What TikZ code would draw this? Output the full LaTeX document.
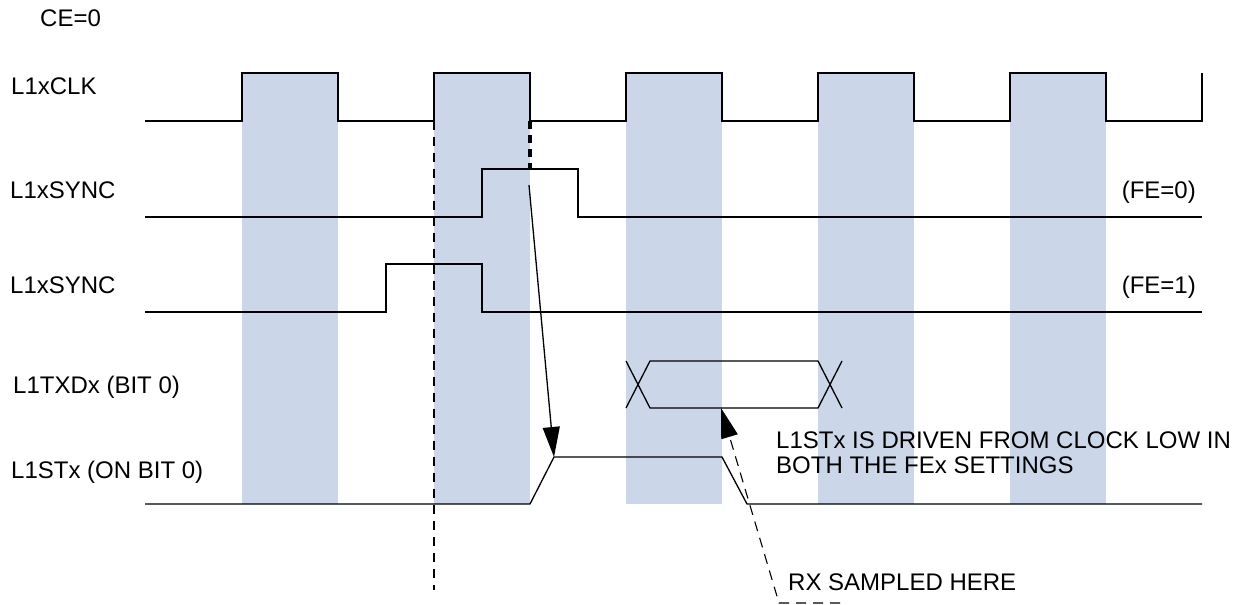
\documentclass[tikz,border=0pt]{standalone}
\usepackage{fontspec}
\setmainfont{Liberation Sans}
\usetikzlibrary{arrows.meta}
\definecolor{bandblue}{RGB}{203,214,232}
\begin{document}
\begin{tikzpicture}[x=1pt,y=-1pt,
  wave/.style={line width=1.3pt,line join=miter},
  lbl/.style={font=\fontsize{24}{25}\selectfont,inner sep=0pt},
  tip/.style={-{Triangle[length=30pt,width=17pt]}}]
\useasboundingbox (0,0) rectangle (1243,605);
% bands
\foreach \x in {242,434,626,818,1010} \fill[bandblue] (\x,73) rectangle (\x+96,504);
% clock
\draw[wave] (145,121) foreach \x in {242,434,626,818,1010}{ -- (\x,121) -- (\x,73) -- (\x+96,73) -- (\x+96,121)} -- (1202,121) -- (1202,73);
% sync FE=0
\draw[wave] (145,217) -- (482,217) -- (482,169) -- (578,169) -- (578,217) -- (1202,217);
% sync FE=1
\draw[wave] (145,312) -- (386,312) -- (386,264) -- (482,264) -- (482,312) -- (1202,312);
% data bus
\draw[wave] (626,361) -- (650,408) -- (818,408) -- (842,361);
\draw[wave] (626,408) -- (650,361) -- (818,361) -- (842,408);
% L1STx
\draw[wave] (145,504) -- (530,504) -- (554,457) -- (722,457) -- (747,504) -- (1202,504);
% markers
\draw[line width=1.2pt,dash pattern=on 9pt off 7pt] (434,121) -- (434,590);
\draw[line width=4pt,dash pattern=on 8pt off 6pt] (530,121) -- (530,169);
% arrow coordinates
\coordinate (a0) at (529,185);
\coordinate (a1) at (554,457);
\coordinate (b0) at (840,603);
\coordinate (b1) at (779,603);
\coordinate (b2) at (721,408);
\draw[line width=1.3pt,tip] (a0) -- (a1);
\draw[line width=1.1pt,dash pattern=on 10pt off 7pt,tip] (b0) -- (b1) -- (b2);
% labels
\node[lbl,anchor=base west] (ce) at (40,27) {CE=0};
\node[lbl,anchor=base west] (clk) at (11,94) {L1xCLK};
\node[lbl,anchor=base west] (sync0) at (10,198) {L1xSYNC};
\node[lbl,anchor=base west] (sync1) at (10,293) {L1xSYNC};
\node[lbl,anchor=base west] (txd) at (13,393) {L1TXDx (BIT 0)};
\node[lbl,anchor=base west] (stx) at (11,478) {L1STx (ON BIT 0)};
\node[lbl,anchor=base east] (fe0) at (1196,198) {(FE=0)};
\node[lbl,anchor=base east] (fe1) at (1196,293) {(FE=1)};
\node[lbl,anchor=base west] (note1) at (776,448) {L1STx IS DRIVEN FROM CLOCK LOW IN};
\node[lbl,anchor=base west] (note2) at (776,473) {BOTH THE FEx SETTINGS};
\node[lbl,anchor=base west] (rx) at (788,590) {RX SAMPLED HERE};
\end{tikzpicture}
\end{document}
